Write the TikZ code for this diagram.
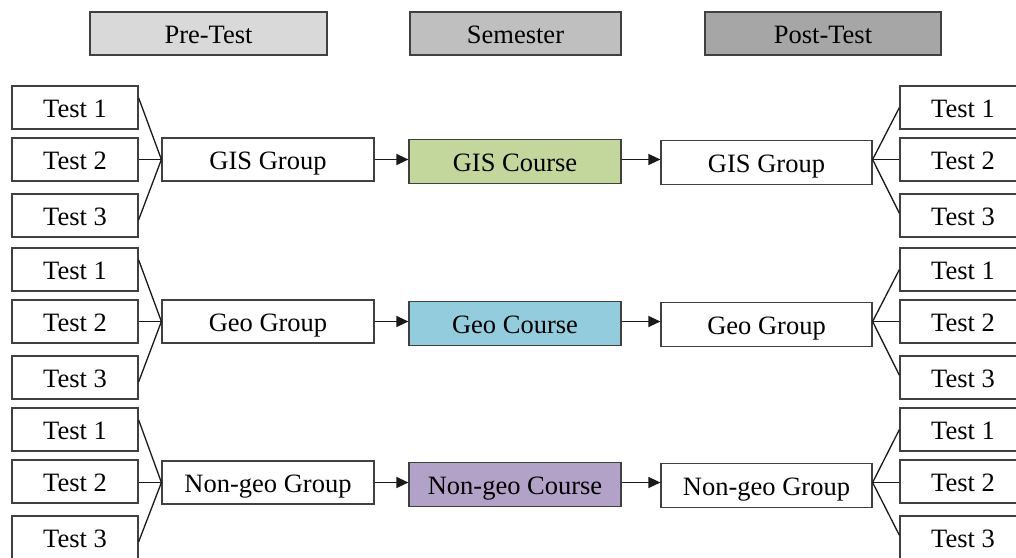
\documentclass[tikz,border=0pt]{standalone}
\usepackage{fontspec}
\setmainfont{Liberation Serif}
\usetikzlibrary{arrows.meta,calc}
\definecolor{hA}{HTML}{D9D9D9}
\definecolor{hB}{HTML}{BFBFBF}
\definecolor{hC}{HTML}{A6A6A6}
\definecolor{cGIS}{HTML}{C3D69B}
\definecolor{cGeo}{HTML}{93CDDD}
\definecolor{cNon}{HTML}{B3A2C7}
\tikzset{
  box/.style={draw=black!75, line width=1.2pt, rectangle, inner sep=0pt,
    font=\fontsize{26.5}{29}\selectfont, text height=19pt, text depth=0pt},
  testbox/.style={box, minimum width=126pt, minimum height=43pt},
  grpbox/.style={box, minimum width=212pt, minimum height=44pt},
  hdr/.style={box, minimum height=43pt},
  conn/.style={draw=black!90, line width=1.3pt},
  arr/.style={conn, -{Triangle[length=12pt,width=11pt]}}
}
\begin{document}
\begin{tikzpicture}[x=1pt,y=-1pt]
\useasboundingbox (0,0) rectangle (1016,557);
\clip (0,0) rectangle (1016,557);
\node[hdr, fill=hA, minimum width=237pt] (hpre) at (208.5,33.5) {Pre-Test};
\node[hdr, fill=hB, minimum width=211pt] (hsem) at (515.5,33.5) {Semester};
\node[hdr, fill=hC, minimum width=236pt] (hpost) at (823,33.5) {Post-Test};
\foreach \g/\yo/\lname/\cname/\rname/\col/\dy in {
  1/0/GIS Group/GIS Course/GIS Group/cGIS/0,
  2/162/Geo Group/Geo Course/Geo Group/cGeo/0,
  3/322/Non-geo Group/Non-geo Course/Non-geo Group/cNon/1}{
  \node[testbox] (l\g a) at (75,107.5+\yo) {Test 1};
  \node[testbox] (l\g b) at (75,159.5+\yo) {Test 2};
  \node[testbox] (l\g c) at (75,215.5+\yo) {Test 3};
  \node[testbox] (r\g a) at (963,107.5+\yo) {Test 1};
  \node[testbox] (r\g b) at (963,159.5+\yo) {Test 2};
  \node[testbox] (r\g c) at (963,215.5+\yo) {Test 3};
  \node[grpbox, minimum height=43pt] (lg\g) at (268,159.5+\yo+\dy) {\lname};
  \node[grpbox, fill=\col] (c\g) at (515,161.5+\yo+\dy) {\cname};
  \node[grpbox, minimum width=211pt] (rg\g) at (766.5,162.5+\yo+\dy) {\rname};
  \coordinate (lj\g) at (lg\g.west);
  \coordinate (rj\g) at ($(rg\g.east)+(0,-3)$);
  \draw[conn] ($(l\g a.north east)!0.28!(l\g a.south east)$) -- (lj\g);
  \draw[conn] (l\g b.east |- lj\g) -- (lj\g);
  \draw[conn] ($(l\g c.north east)!0.6!(l\g c.south east)$) -- (lj\g);
  \draw[conn] (rj\g) -- (r\g a.west);
  \draw[conn] (rj\g) -- (r\g b.west |- rj\g);
  \draw[conn] (rj\g) -- ($(r\g c.north west)!0.45!(r\g c.south west)$);
  \draw[arr] (lg\g.east) -- (lg\g.east -| c\g.west);
  \draw[arr] (c\g.east |- lg\g.east) -- (lg\g.east -| rg\g.west);
}
\end{tikzpicture}
\end{document}
